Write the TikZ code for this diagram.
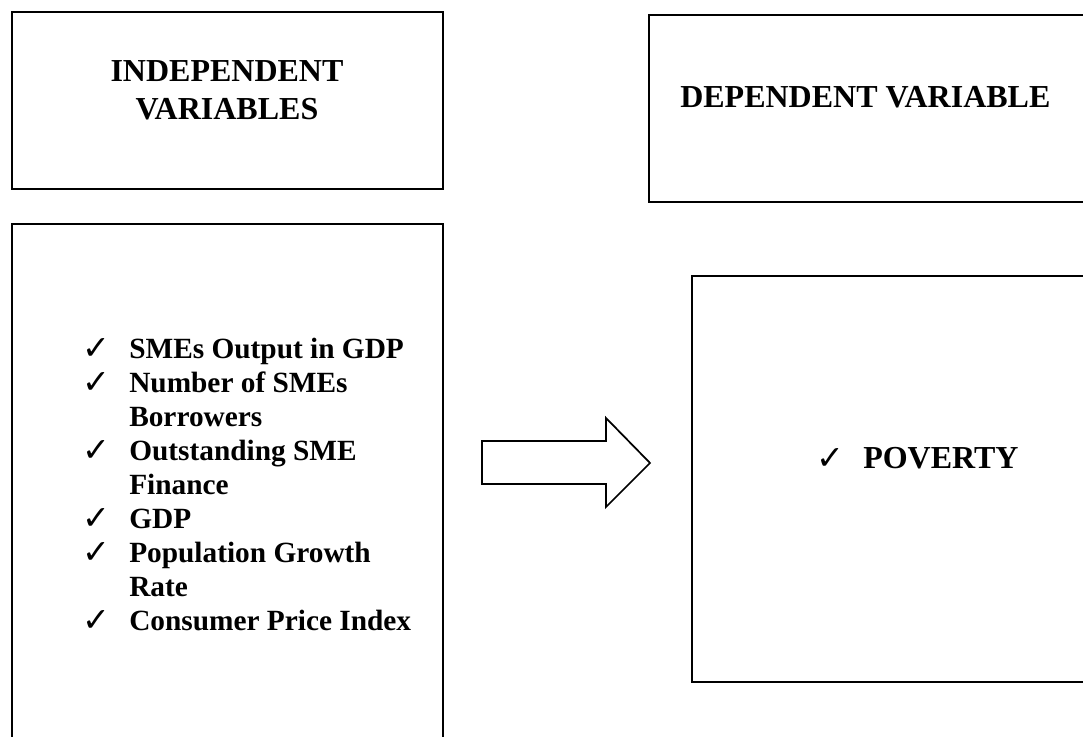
\documentclass[tikz,border=0pt]{standalone}
\usepackage{fontspec}
\setmainfont{Liberation Serif}
\newfontfamily\checkfont{DejaVu Sans}
\usetikzlibrary{positioning}
\tikzset {
  box/.style={draw,line width=1.9pt},
  blockarrow/.style={draw,line width=1.3pt,line join=miter},
  headtext/.style={font=\bfseries\fontsize{24}{29}\selectfont,inner sep=0pt},
  itemtext/.style={font=\bfseries\fontsize{22}{26}\selectfont,anchor=base west,inner sep=0pt},
  tick/.style={font=\checkfont\fontsize{25}{25}\selectfont,anchor=base west,inner sep=0pt},
}

\begin{document}
\begin{tikzpicture}[x=0.75pt,y=-0.75pt]
          \useasboundingbox (0,0) rectangle (1083,737);
          \clip (0,0) rectangle (1083,737);
          % boxes
          \draw[box] (12,12) rectangle (443,189);
          \draw[box] (649,15) rectangle (1110,202);
          \draw[box] (12,224) rectangle (443,770);
          \draw[box] (692,276) rectangle (1110,682);
          % headings
          \node[headtext,anchor=base] (indep1) at (227,82) {INDEPENDENT};
          \node[headtext,anchor=base] (indep2) at (227,120) {VARIABLES};
          \node[headtext,anchor=base west] (dep) at (680,108) {DEPENDENT VARIABLE};
          % list of variables
          \foreach \k/\txt in {0/SMEs Output in GDP,1/Number of SMEs,2/Borrowers,
              3/Outstanding SME,4/Finance,5/GDP,6/Population Growth,7/Rate,
              8/Consumer Price Index}
            \node[itemtext] (line\k) at (129,{359+34*\k}) {\txt};
          \foreach \k in {0,1,3,5,6,8}
            \node[tick] (tick\k) at (82,{360+34*\k}) {✓};
          % outcome
          \node[tick] (tickpov) at (816,470) {✓};
          \node[headtext,anchor=base west] (pov) at (863,469) {POVERTY};
          % block arrow
          \coordinate (arrtail) at (482,441);
          \coordinate (arrtip) at (650,463);
          \draw[blockarrow] (arrtail) -- (606,441) -- (606,418) -- (arrtip)
            -- (606,507) -- (606,484) -- (482,484) -- cycle;
        \end{tikzpicture}
\end{document}
